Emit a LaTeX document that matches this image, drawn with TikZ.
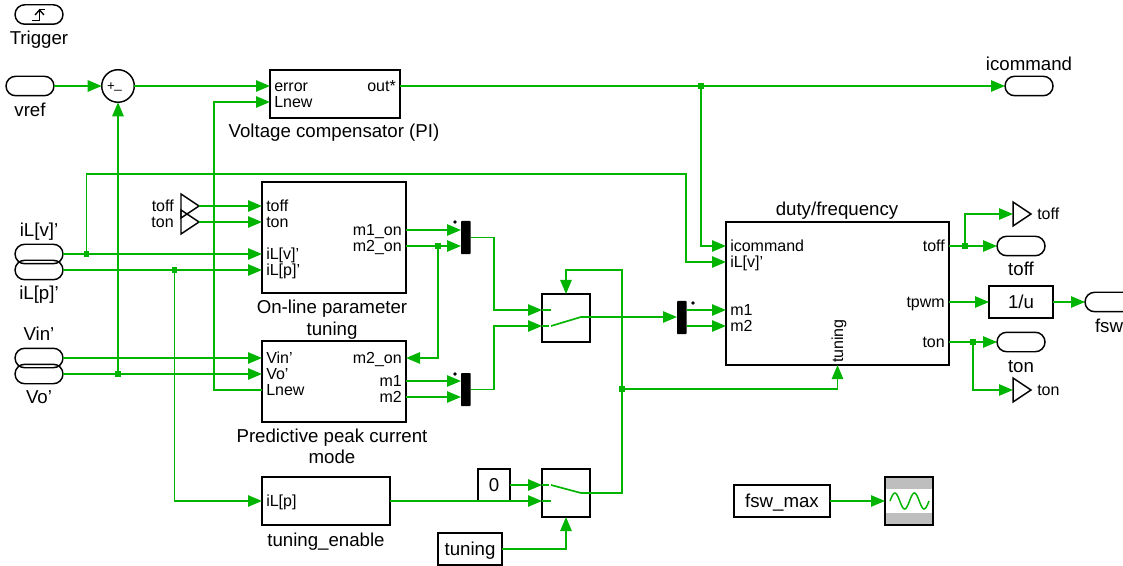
\documentclass[tikz,border=0pt]{standalone}
\usepackage{fontspec}
\setmainfont{Liberation Sans}
\usetikzlibrary{arrows.meta,calc,shapes.geometric,shapes.misc}
\definecolor{wiregreen}{RGB}{0,180,0}
\definecolor{scopegray}{RGB}{190,190,190}

\begin{document}
\begin{tikzpicture}[x=0.75pt,y=-0.75pt,
  wire/.style={draw=wiregreen,line width=1.25pt},
  arr/.style={wire,-{Triangle[length=10.5pt,width=8.5pt]}},
  junc/.style={fill=wiregreen,inner sep=0pt,minimum size=3.8pt},
  blockbox/.style 2 args={draw,line width=1.1pt,anchor=north west,inner sep=0pt,outer sep=0pt,
    minimum width=#1*0.75pt,minimum height=#2*0.75pt,font=\fontsize{14}{16}\selectfont,
    text height=12.2pt,text depth=3pt},
  capsule/.style={draw,line width=1.1pt,rounded rectangle,anchor=west,inner sep=0pt,outer sep=0pt,
    minimum width=36pt,minimum height=14.6pt},
  tagtri/.style={draw,line width=1.1pt,isosceles triangle,isosceles triangle stretches,anchor=lower side,
    shape border rotate=0,inner sep=0pt,outer sep=0pt,minimum width=18pt,minimum height=13.5pt},
  muxbar/.style={fill=black,rounded corners=0.6pt,anchor=north west,inner sep=0pt,outer sep=0pt,
    minimum width=7.2pt,minimum height=24.8pt},
  muxdot/.style={circle,fill=black,inner sep=0pt,minimum size=2.8pt},
  lbl/.style={font=\fontsize{14}{16}\selectfont,inner sep=0pt,text height=12pt,text depth=3pt},
  portl/.style={font=\fontsize{12}{14}\selectfont,anchor=west,inner sep=0pt,text height=9.4pt,text depth=1.6pt},
  portr/.style={portl,anchor=east}]
  \useasboundingbox (0,0) rectangle (1123,566);
  \clip (0,0) rectangle (1123,566);

  % blocks
  \node[blockbox={130}{48}] (pi) at (270,70) {};
  \node[blockbox={144}{111}] (online) at (262,182) {};
  \node[blockbox={144}{81}] (pred) at (262,341) {};
  \node[blockbox={128}{48}] (enable) at (262,477) {};
  \node[blockbox={223}{143}] (duty) at (726,222) {};
  \node[blockbox={48}{48}] (sw1) at (542,294) {};
  \node[blockbox={48}{48}] (sw2) at (542,469) {};
  \node[blockbox={32}{32}] (zero) at (478,469) {0};
  \node[blockbox={64}{32}] (tunebox) at (438,533) {tuning};
  \node[blockbox={64}{32}] (inv) at (989,286) {1/u};
  \node[blockbox={96}{32}] (fswmax) at (734,485) {fsw\_max};
  \node[muxbar] (mux1) at (461,221) {};
  \node[muxbar] (mux2) at (461,373) {};
  \node[muxbar] (mux3) at (677,301) {};
  \node[muxdot] (mux1-dot) at (455,222) {};
  \node[muxdot] (mux2-dot) at (455,374) {};
  \node[muxdot] (mux3-dot) at (693,303) {};

  % sum
  \node[draw,circle,line width=1.1pt,inner sep=0pt,outer sep=0pt,minimum size=24.4pt] (sum) at (118,86) {};
  \node[font=\fontsize{10}{12}\selectfont,inner sep=0pt] (sum-plus) at (111,86.5) {+};
  \node[font=\fontsize{10}{12}\selectfont,inner sep=0pt] (sum-minus) at (118,90) {\_};

  % scope
  \node[blockbox={48}{48},fill=scopegray] (scope) at (885,477) {};
  \node[fill=white,inner sep=0pt,minimum width=35pt,minimum height=18pt] (scope-band) at (scope.center) {};
  \draw[wiregreen,line width=1.1pt] plot[domain=0:2,samples=60,smooth] ({890+\x*19.5},{501-8*sin(\x*360)});

  % source capsules
  \node[capsule] (trigger) at (15,14.5) {};
  \node[capsule] (vref) at (6,86) {};
  \node[capsule] (ilv) at (15,254) {};
  \node[capsule] (ilp) at (15,270) {};
  \node[capsule] (vin) at (15,358) {};
  \node[capsule] (vo) at (15,374) {};
  \node[capsule] (icommand) at (1005,86) {};
  \node[capsule] (cap-toff) at (997,246) {};
  \node[capsule] (cap-ton) at (997,342) {};
  \node[capsule] (cap-fsw) at (1085,302) {};
  \draw[line width=1pt] (32,20.5) -- (39.5,20.5) -- (39.5,9.5) -- (45,9.5);
  \draw[line width=1pt] (35,15) -- (39.5,10) -- (44,15);

  % goto tags
  \node[tagtri] (from-toff) at (181,206) {};
  \node[tagtri] (from-ton) at (181,222) {};
  \node[tagtri] (to-toff) at (1013,214) {};
  \node[tagtri] (to-ton) at (1013,390) {};
  \node[portr] (from-toff-lbl) at (174,206) {toff};
  \node[portr] (from-ton-lbl) at (174,222) {ton};
  \node[portl] (to-toff-lbl) at (1037,214) {toff};
  \node[portl] (to-ton-lbl) at (1037,390) {ton};

  % names under blocks
  \node[lbl] (trigger-lbl) at (39,38.5) {Trigger};
  \node[lbl] (vref-lbl) at (30,110.5) {vref};
  \node[lbl] (ilv-lbl) at (39,231) {iL[v]'};
  \node[lbl] (ilp-lbl) at (39,293.5) {iL[p]'};
  \node[lbl] (vin-lbl) at (39,334) {Vin'};
  \node[lbl] (vo-lbl) at (39,397) {Vo'};
  \node[lbl] (icommand-lbl) at (1029,65) {icommand};
  \node[lbl] (cap-toff-lbl) at (1021,270) {toff};
  \node[lbl] (cap-ton-lbl) at (1021,366) {ton};
  \node[lbl] (cap-fsw-lbl) at (1109,326) {fsw};
  \node[lbl] (pi-lbl) at (334,132) {Voltage compensator (PI)};
  \node[lbl] (online-lbl1) at (332,308) {On-line parameter};
  \node[lbl] (online-lbl2) at (332,329) {tuning};
  \node[lbl] (pred-lbl1) at (332,436) {Predictive peak current};
  \node[lbl] (pred-lbl2) at (332,457) {mode};
  \node[lbl] (enable-lbl) at (326,540) {tuning\_enable};
  \node[lbl] (duty-lbl) at (837,210) {duty/frequency};

  % ports
  \node[portl] (pi-error) at (274,86) {error};
  \node[portl] (pi-lnew) at (274,102) {Lnew};
  \node[portr] (pi-out) at (396,86) {out*};
  \node[portl] (online-toff) at (266,206) {toff};
  \node[portl] (online-ton) at (266,222) {ton};
  \node[portl] (online-ilv) at (266,254) {iL[v]'};
  \node[portl] (online-ilp) at (266,270) {iL[p]'};
  \node[portr] (online-m1) at (402,230) {m1\_on};
  \node[portr] (online-m2) at (402,246) {m2\_on};
  \node[portl] (pred-vin) at (266,358) {Vin'};
  \node[portl] (pred-vo) at (266,374) {Vo'};
  \node[portl] (pred-lnew) at (266,390) {Lnew};
  \node[portr] (pred-m2on) at (402,358) {m2\_on};
  \node[portr] (pred-m1) at (402,381) {m1};
  \node[portr] (pred-m2) at (402,397) {m2};
  \node[portl] (enable-ilp) at (266,501) {iL[p]};
  \node[portl] (duty-icommand) at (730,246) {icommand};
  \node[portl] (duty-ilv) at (730,262) {iL[v]'};
  \node[portl] (duty-m1) at (730,310) {m1};
  \node[portl] (duty-m2) at (730,326) {m2};
  \node[portr] (duty-toff) at (945,246) {toff};
  \node[portr] (duty-tpwm) at (945,302) {tpwm};
  \node[portr] (duty-ton) at (945,342) {ton};
  \node[portl,anchor=center,rotate=90] (duty-tuning) at (838,341) {tuning};

  % junctions
  \node[junc] (j-out) at (701,86) {};
  \node[junc] (j-ilv) at (86.5,254) {};
  \node[junc] (j-ilp) at (174.5,270) {};
  \node[junc] (j-vo) at (118,374) {};
  \node[junc] (j-m2) at (438,246) {};
  \node[junc] (j-tune) at (622,389) {};
  \node[junc] (j-toff) at (965,246) {};
  \node[junc] (j-ton) at (973,342) {};
  \coordinate (bus-ilv) at (686,174);
  \coordinate (bus-lnew) at (214,246);
  \coordinate (bus-mux1) at (494,274);
  \coordinate (bus-mux2) at (494,358);
  \coordinate (top-ctrl) at (622,270);
  \coordinate (sw1-hi) at (551,310);
  \coordinate (sw1-lo) at (551,326);
  \coordinate (sw1-pole) at (581,317);
  \coordinate (sw2-hi) at (551,485);
  \coordinate (sw2-lo) at (551,501);
  \coordinate (sw2-pole) at (581,493);
  \coordinate (sw2-out) at (622,493);

  % top row
  \draw[arr] (vref.east) -- (sum.west);
  \draw[arr] (sum.east) -- (pi.west |- pi-error);
  \draw[arr] (pi.east |- pi-out) -- (icommand.west);
  \draw[arr] (j-out) |- (duty.west |- duty-icommand);
  \draw[arr] (j-vo) -- (sum.south);
  \draw[arr] (pred.west |- pred-lnew) -| (bus-lnew) |- (pi.west |- pi-lnew);

  % left inputs
  \draw[arr] (from-toff.apex) -- (online.west |- online-toff);
  \draw[arr] (from-ton.apex) -- (online.west |- online-ton);
  \draw[arr] (ilv.east) -- (online.west |- online-ilv);
  \draw[arr] (ilp.east) -- (online.west |- online-ilp);
  \draw[arr] (vin.east) -- (pred.west |- pred-vin);
  \draw[arr] (vo.east) -- (pred.west |- pred-vo);
  \draw[arr] (j-ilv) |- (bus-ilv) |- (duty.west |- duty-ilv);
  \draw[arr] (j-ilp) |- (enable.west |- enable-ilp);

  % muxes and first switch
  \draw[arr] (online.east |- online-m1) -- (mux1.west |- online-m1);
  \draw[arr] (online.east |- online-m2) -- (mux1.west |- online-m2);
  \draw[arr] (j-m2) |- (pred.east |- pred-m2on);
  \draw[arr] (pred.east |- pred-m1) -- (mux2.west |- pred-m1);
  \draw[arr] (pred.east |- pred-m2) -- (mux2.west |- pred-m2);
  \draw[arr] (mux1.east) -| (bus-mux1) |- (sw1.west |- sw1-hi);
  \draw[arr] (mux2.east) -| (bus-mux2) |- (sw1.west |- sw1-lo);
  \draw[wire] (sw1.west |- sw1-hi) -- (sw1-hi);
  \draw[wire] (sw1.west |- sw1-lo) -- ([xshift=-1.5pt]sw1-lo);
  \draw[wire] (sw1-lo) -- (sw1-pole);
  \draw[arr] (sw1-pole) -- (mux3.west |- sw1-pole);
  \draw[arr] (mux3.east |- duty-m1) -- (duty.west |- duty-m1);
  \draw[arr] (mux3.east |- duty-m2) -- (duty.west |- duty-m2);

  % second switch and tuning
  \draw[arr] (zero.east |- sw2-hi) -- (sw2.west |- sw2-hi);
  \draw[arr] (enable.east |- enable-ilp) -- (sw2.west |- enable-ilp);
  \draw[wire] (sw2.west |- sw2-hi) -- ([xshift=-1.5pt]sw2-hi);
  \draw[wire] (sw2.west |- sw2-lo) -- (sw2-lo);
  \draw[wire] (sw2-hi) -- (sw2-pole) -- (sw2-out) -- (j-tune);
  \draw[arr] (tunebox.east) -| (sw2.south);
  \draw[arr] (j-tune) -- (top-ctrl) -| (sw1.north);
  \draw[arr] (j-tune) -| (duty.south);

  % outputs
  \draw[arr] (duty.east |- duty-toff) -- (cap-toff.west);
  \draw[arr] (j-toff) |- (to-toff.lower side);
  \draw[arr] (duty.east |- duty-tpwm) -- (inv.west);
  \draw[arr] (inv.east) -- (cap-fsw.west);
  \draw[arr] (duty.east |- duty-ton) -- (cap-ton.west);
  \draw[arr] (j-ton) |- (to-ton.lower side);
  \draw[arr] (fswmax.east) -- (scope.west);
\end{tikzpicture}
\end{document}
